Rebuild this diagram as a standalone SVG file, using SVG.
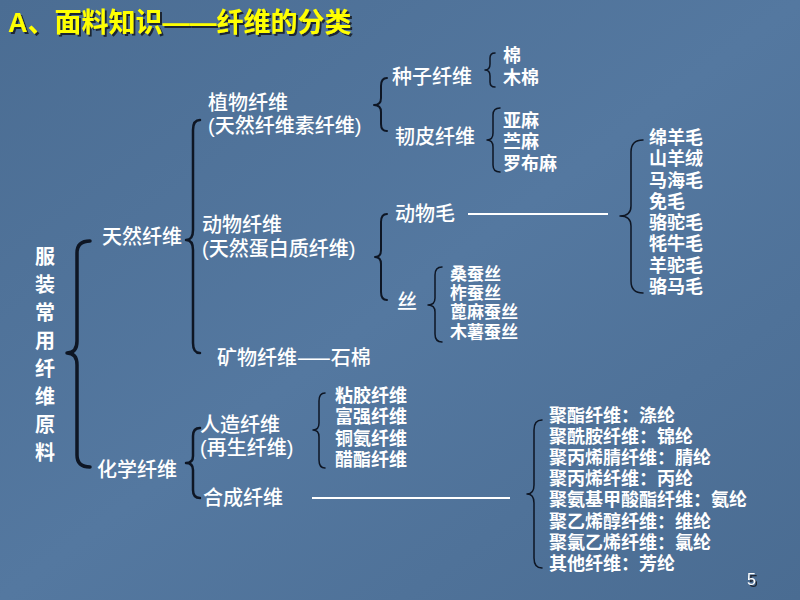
<svg xmlns="http://www.w3.org/2000/svg" width="800" height="600" viewBox="0 0 800 600">
<defs>
<linearGradient id="bg" x1="0" y1="0" x2="1" y2="1">
<stop offset="0" stop-color="#4b6d93"/>
<stop offset="0.5" stop-color="#5478a0"/>
<stop offset="1" stop-color="#4a6c92"/>
</linearGradient>
<filter id="sh" x="-5%" y="-20%" width="110%" height="150%">
<feDropShadow dx="2" dy="2" stdDeviation="0.6" flood-color="#141c2a" flood-opacity="0.9"/>
</filter>
<style>
.t{font-family:"Noto Sans CJK SC","Liberation Sans",sans-serif;fill:#ffffff;font-size:20px;font-weight:500}
.l{font-family:"Noto Sans CJK SC","Liberation Sans",sans-serif;fill:#ffffff;font-size:18px;font-weight:bold}
.s{font-size:17px}
.v{font-family:"Noto Sans CJK SC","Liberation Sans",sans-serif;fill:#ffffff;font-size:20px;font-weight:bold;text-anchor:middle}
.p{font-family:"Liberation Sans","Noto Sans CJK SC",sans-serif}
.br{fill:none;stroke:#0e1624;stroke-width:2;stroke-linecap:round;stroke-linejoin:round}
.ln{stroke:#ffffff;stroke-width:2}
.title{font-family:"Liberation Sans","Noto Sans CJK SC",sans-serif;font-size:27px;font-weight:bold;fill:#ffff00}
</style>
</defs>
<rect width="800" height="600" fill="url(#bg)"/>

<g id="title">
<text class="title" x="8" y="32" filter="url(#sh)">A、面料知识——纤维的分类</text>
</g>

<g id="connectors">
<path class="br" style="stroke-width:3.5" d="M90,241 Q77,241 77,253 L77,341 Q77,353 67,353 Q77,353 77,365 L77,455 Q77,467 90,467"/>
<path class="br" style="stroke-width:2.5" d="M200,120 Q193,120 193,130 L193,230 Q193,240 186,240 Q193,240 193,250 L193,343 Q193,353 200,353"/>
<path class="br" d="M387,78 Q381,78 381,86 L381,98 Q381,105 374,105 Q381,105 381,112 L381,124 Q381,131 387,131"/>
<path class="br" style="stroke-width:1.5" d="M495,53 Q490,53 490,58 L490,64 Q490,70 485,70 Q490,70 490,76 L490,82 Q490,87 495,87"/>
<path class="br" style="stroke-width:1.5" d="M500,108 Q493,108 493,115 L493,133 Q493,140 487,140 Q493,140 493,147 L493,165 Q493,172 500,172"/>
<path class="br" d="M387,214 Q381,214 381,222 L381,250 Q381,257 375,257 Q381,257 381,264 L381,292 Q381,300 387,300"/>
<path class="br" style="stroke-width:1.5" d="M442,267 Q435,267 435,275 L435,298 Q435,305 428,305 Q435,305 435,312 L435,334 Q435,342 442,342"/>
<path class="br" style="stroke-width:1.5" d="M643,140 Q631,140 631,152 L631,206 Q631,216 620,216 Q631,216 631,226 L631,281 Q631,293 643,293"/>
<path class="br" style="stroke-width:2.5" d="M200,428 Q193,428 193,436 L193,456 Q193,463 186,463 Q193,463 193,470 L193,490 Q193,498 200,498"/>
<path class="br" style="stroke-width:1.5" d="M325,393 Q319,393 319,401 L319,423 Q319,430 313,430 Q319,430 319,437 L319,460 Q319,468 325,468"/>
<path class="br" style="stroke-width:1.5" d="M542,420 Q534,420 534,430 L534,485 Q534,494 527,494 Q534,494 534,503 L534,558 Q534,568 542,568"/>
<line class="ln" x1="468" y1="214" x2="608" y2="214"/>
<line class="ln" x1="312" y1="498" x2="510" y2="498"/>
</g>

<g id="root">
<text class="v" x="45" y="264">服</text>
<text class="v" x="45" y="292">装</text>
<text class="v" x="45" y="320">常</text>
<text class="v" x="45" y="348">用</text>
<text class="v" x="45" y="376">纤</text>
<text class="v" x="45" y="404">维</text>
<text class="v" x="45" y="432">原</text>
<text class="v" x="45" y="460">料</text>
</g>

<g id="natural"><text class="t" x="102" y="244">天然纤维</text></g>
<g id="plant">
<text class="t" x="208" y="110">植物纤维</text>
<text class="t" x="208" y="133"><tspan class="p">(</tspan>天然纤维素纤维<tspan class="p">)</tspan></text>
</g>
<g id="animal">
<text class="t" x="202" y="232">动物纤维</text>
<text class="t" x="202" y="256"><tspan class="p">(</tspan>天然蛋白质纤维<tspan class="p">)</tspan></text>
</g>
<g id="mineral"><text class="t" x="217" y="365">矿物纤维——石棉</text></g>
<g id="seed"><text class="t" x="392" y="84">种子纤维</text></g>
<g id="seed-list">
<text class="l" x="503" y="62">棉</text>
<text class="l" x="503" y="84">木棉</text>
</g>
<g id="bast"><text class="t" x="395" y="144">韧皮纤维</text></g>
<g id="bast-list">
<text class="l" x="503" y="127">亚麻</text>
<text class="l" x="503" y="148">苎麻</text>
<text class="l" x="503" y="170">罗布麻</text>
</g>
<g id="animal-hair"><text class="t" x="395" y="221">动物毛</text></g>
<g id="hair-list">
<text class="l" x="649" y="144">绵羊毛</text>
<text class="l" x="649" y="165">山羊绒</text>
<text class="l" x="649" y="187">马海毛</text>
<text class="l" x="649" y="208">免毛</text>
<text class="l" x="649" y="229">骆驼毛</text>
<text class="l" x="649" y="250">牦牛毛</text>
<text class="l" x="649" y="272">羊驼毛</text>
<text class="l" x="649" y="293">骆马毛</text>
</g>
<g id="silk"><text class="t" x="397" y="309">丝</text></g>
<g id="silk-list">
<text class="l s" x="450" y="280">桑蚕丝</text>
<text class="l s" x="450" y="299">柞蚕丝</text>
<text class="l s" x="450" y="318">蓖麻蚕丝</text>
<text class="l s" x="450" y="338">木薯蚕丝</text>
</g>
<g id="chemical"><text class="t" x="97" y="477">化学纤维</text></g>
<g id="manmade">
<text class="t" x="200" y="432">人造纤维</text>
<text class="t" x="200" y="455"><tspan class="p">(</tspan>再生纤维<tspan class="p">)</tspan></text>
</g>
<g id="manmade-list">
<text class="l" x="335" y="402">粘胶纤维</text>
<text class="l" x="335" y="423">富强纤维</text>
<text class="l" x="335" y="445">铜氨纤维</text>
<text class="l" x="335" y="466">醋酯纤维</text>
</g>
<g id="synthetic"><text class="t" x="203" y="505">合成纤维</text></g>
<g id="synthetic-list">
<text class="l" x="549" y="422">聚酯纤维：涤纶</text>
<text class="l" x="549" y="443">聚酰胺纤维：锦纶</text>
<text class="l" x="549" y="464">聚丙烯腈纤维：腈纶</text>
<text class="l" x="549" y="485">聚丙烯纤维：丙纶</text>
<text class="l" x="549" y="506">聚氨基甲酸酯纤维：氨纶</text>
<text class="l" x="549" y="528">聚乙烯醇纤维：维纶</text>
<text class="l" x="549" y="549">聚氯乙烯纤维：氯纶</text>
<text class="l" x="549" y="570">其他纤维：芳纶</text>
</g>
<g id="page">
<text x="747" y="585" font-family="Liberation Sans,sans-serif" font-size="16" fill="#ffffff" filter="url(#sh)">5</text>
</g>
</svg>
